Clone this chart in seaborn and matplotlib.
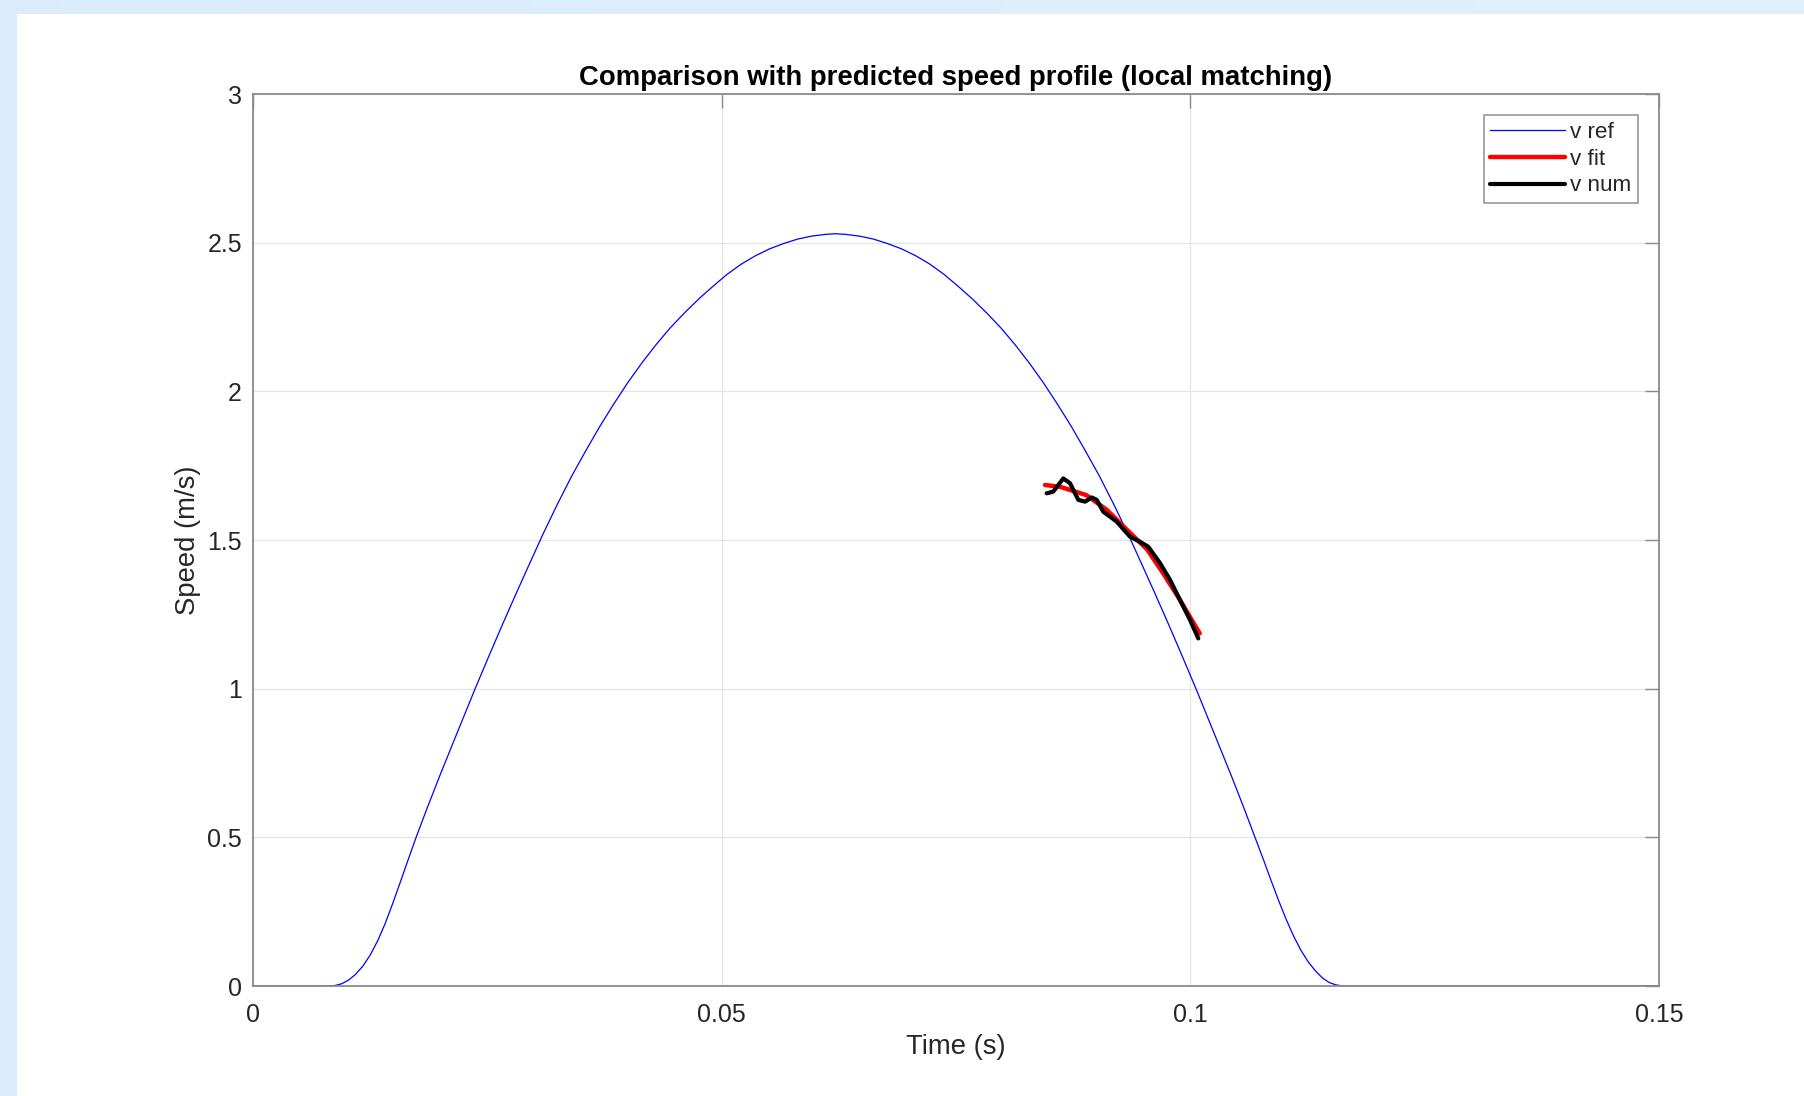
import numpy as np
import matplotlib
matplotlib.use("Agg")
import matplotlib.pyplot as plt
import seaborn as sns

# Reference speed profile v_ref(t): rest, acceleration, peak, deceleration, rest
t_ref = [0.0000, 0.0080, 0.0088, 0.0095, 0.0102, 0.0109, 0.0117, 0.0125, 0.0133, 0.0141,
         0.0149, 0.0157, 0.0165, 0.0174, 0.0186, 0.0199, 0.0218, 0.0237, 0.0252, 0.0267,
         0.0281, 0.0295, 0.0310, 0.0325, 0.0340, 0.0355, 0.0370, 0.0385, 0.0400, 0.0415,
         0.0430, 0.0445, 0.0461, 0.0476, 0.0491, 0.0506, 0.0521, 0.0536, 0.0551, 0.0566,
         0.0581, 0.0596, 0.0611, 0.0621, 0.0632, 0.0647, 0.0662, 0.0677, 0.0692, 0.0707,
         0.0722, 0.0737, 0.0752, 0.0767, 0.0782, 0.0798, 0.0813, 0.0828, 0.0843, 0.0858,
         0.0873, 0.0888, 0.0903, 0.0918, 0.0933, 0.0948, 0.0962, 0.0976, 0.0991, 0.1006,
         0.1025, 0.1044, 0.1057, 0.1069, 0.1078, 0.1086, 0.1094, 0.1102, 0.1110, 0.1118,
         0.1126, 0.1134, 0.1141, 0.1148, 0.1155, 0.1163, 0.1500]
v_ref = [0.000, 0.000, 0.002, 0.008, 0.020, 0.038, 0.066, 0.104, 0.152, 0.210,
         0.277, 0.348, 0.420, 0.500, 0.600, 0.705, 0.853, 1.000, 1.112, 1.222,
         1.322, 1.420, 1.524, 1.622, 1.715, 1.800, 1.882, 1.958, 2.030, 2.096,
         2.157, 2.213, 2.266, 2.312, 2.354, 2.394, 2.428, 2.456, 2.479, 2.497,
         2.512, 2.522, 2.528, 2.530, 2.528, 2.522, 2.512, 2.497, 2.479, 2.456,
         2.428, 2.394, 2.354, 2.312, 2.266, 2.213, 2.157, 2.096, 2.030, 1.958,
         1.882, 1.800, 1.715, 1.622, 1.524, 1.420, 1.322, 1.222, 1.112, 1.000,
         0.853, 0.705, 0.600, 0.500, 0.425, 0.356, 0.289, 0.226, 0.169, 0.120,
         0.080, 0.049, 0.027, 0.012, 0.004, 0.000, 0.000]

# Fitted speed over the local matching window
t_fit = [0.0845, 0.0861, 0.0889, 0.0911, 0.0936, 0.0954, 0.0971, 0.0989, 0.1010]
v_fit = [1.685, 1.679, 1.651, 1.601, 1.523, 1.468, 1.388, 1.298, 1.186]

# Numerically differentiated speed
t_num = [0.08467, 0.08538, 0.08645, 0.08716, 0.08805, 0.08876, 0.08948, 0.09001, 0.09072,
         0.09214, 0.09357, 0.09463, 0.09552, 0.09677, 0.09783, 0.09890, 0.09997, 0.10085]
v_num = [1.657, 1.663, 1.707, 1.691, 1.635, 1.629, 1.643, 1.635, 1.595,
         1.562, 1.511, 1.494, 1.477, 1.422, 1.366, 1.298, 1.231, 1.169]

x_ticks = [0, 0.05, 0.1, 0.15]
x_tick_labels = ["0", "0.05", "0.1", "0.15"]
y_ticks = [0, 0.5, 1, 1.5, 2, 2.5, 3]
y_tick_labels = ["0", "0.5", "1", "1.5", "2", "2.5", "3"]

sns.set_style("white")
plt.rcParams["font.family"] = ["Liberation Sans", "DejaVu Sans"]

W, H = 1804, 1096
fig = plt.figure(figsize=(W / 100, H / 100), dpi=100)
fig.patch.set_facecolor("white")

# pale blue window frame along the left and top edges
bg = fig.add_axes([0, 0, 1, 1], zorder=-10)
frame = np.ones((H, W, 3))
top_band = np.linspace(0.0, 1.0, W)[:, None] * np.array([0.02, 0.015, 0.0]) + np.array([0.86, 0.925, 0.985])
frame[:14, :, :] = top_band[None, :, :]
frame[:, :17, :] = np.array([0.865, 0.925, 0.985])
bg.imshow(frame, aspect="auto", interpolation="nearest", extent=(0, W, H, 0))
bg.set_xlim(0, W)
bg.set_ylim(H, 0)
bg.set_axis_off()

ax = fig.add_axes([253 / W, 1 - 986 / H, 1406 / W, 892 / H])
ax.set_facecolor("white")

sns.lineplot(x=t_ref, y=v_ref, ax=ax, color=(0.0, 0.0, 1.0), linewidth=0.9,
             label="v ref", estimator=None, sort=False)
sns.lineplot(x=t_fit, y=v_fit, ax=ax, color=(1.0, 0.0, 0.0), linewidth=3.2,
             label="v fit", estimator=None, sort=False)
sns.lineplot(x=t_num, y=v_num, ax=ax, color="black", linewidth=3.0,
             label="v num", estimator=None, sort=False,
             solid_joinstyle="round", solid_capstyle="round")

ax.set_xlim(0, 0.15)
ax.set_ylim(0, 3)
ax.set_xticks(x_ticks)
ax.set_xticklabels(x_tick_labels)
ax.set_yticks(y_ticks)
ax.set_yticklabels(y_tick_labels)

axis_grey = "#8a8a8a"
text_col = "#262626"
for s in ax.spines.values():
    s.set_visible(True)
    s.set_color(axis_grey)
    s.set_linewidth(1.3)

ax.tick_params(axis="both", which="major", direction="in", length=10, width=1.0,
               color=axis_grey, top=True, right=True, labelsize=18, labelcolor=text_col)
ax.tick_params(axis="x", pad=12)
ax.tick_params(axis="y", pad=8)

ax.grid(True, color="#e4e4e4", linewidth=0.9)
ax.set_axisbelow(True)

ax.set_xlabel("Time (s)", fontsize=19.8, color=text_col)
ax.xaxis.set_label_coords(0.5, -0.0533)
ax.set_ylabel("Speed (m/s)", fontsize=19.8, color=text_col)
ax.yaxis.set_label_coords(-0.037, 0.5)
ax.set_title("Comparison with predicted speed profile (local matching)",
             fontsize=19.8, fontweight="bold", pad=6.5, color="black")

leg = ax.legend(loc="upper right", bbox_to_anchor=(0.9853, 0.9765), borderaxespad=0,
                fontsize=16.2, frameon=True, fancybox=False, edgecolor="#8f8f8f",
                framealpha=1, handlelength=3.3, handletextpad=0.25, labelspacing=0.26,
                borderpad=0.3)
leg.get_frame().set_linewidth(1.1)
for txt in leg.get_texts():
    txt.set_color(text_col)

fig.savefig("out.png", dpi=100)
